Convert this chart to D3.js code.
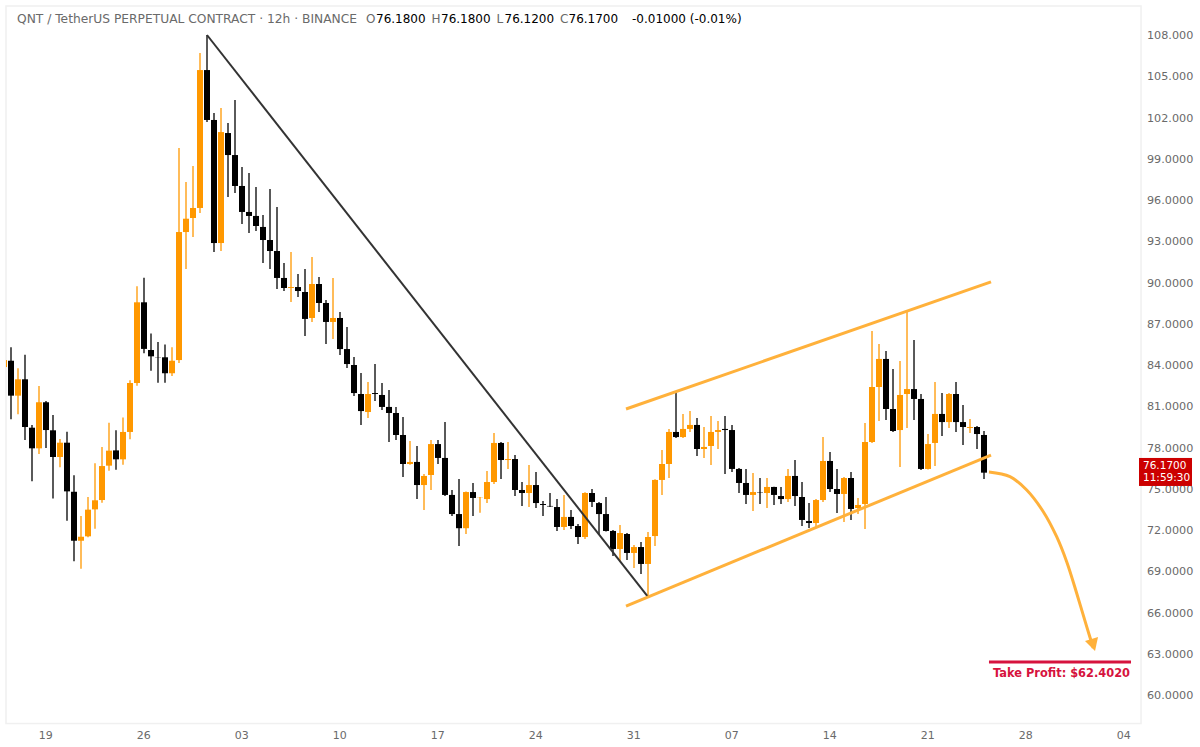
<!DOCTYPE html>
<html>
<head>
<meta charset="utf-8">
<script src="https://cdn.jsdelivr.net/npm/d3@7"></script>
<style>
  html, body { margin: 0; padding: 0; background: #fff; }
  svg { display: block; font-family: "DejaVu Sans", sans-serif; }
</style>
</head>
<body>
<svg id="chart" width="1200" height="747"></svg>
<script>
/* ---------- data, one entry per 12h bar ---------- */
const opens = [83.85,
  84.31,81.77,82.96,79.44,77.94,81.29,79.25,77.31,78.35,74.78,71.22,71.54,73.50,74.18,76.68,77.79,77.14,79.13,82.69,88.56,
  85.09,84.58,84.56,83.40,84.36,93.67,94.69,95.42,105.45,101.82,92.87,100.87,99.27,97.02,95.13,94.84,94.04,93.09,92.29,90.33,
  89.60,89.67,89.31,87.42,89.89,88.51,87.13,87.42,85.16,84.00,81.89,80.58,81.96,81.82,80.95,80.51,78.91,76.80,76.95,75.27,
  76.00,78.25,77.24,74.55,73.16,72.13,74.76,74.38,74.25,75.49,78.33,77.09,77.16,74.91,74.69,75.27,73.89,73.75,73.67,72.22,
  72.95,72.29,71.49,74.69,73.96,73.16,71.93,70.62,71.71,70.33,70.76,69.53,71.56,75.64,76.80,79.13,78.76,79.35,79.64,77.89,
  78.11,79.13,79.35,79.27,76.44,75.42,74.55,74.76,74.69,75.13,74.47,74.25,75.93,74.40,72.65,72.51,74.18,77.02,74.98,74.62,
  75.78,73.60,73.89,78.40,82.40,84.44,80.80,79.27,81.89,82.25,81.53,76.44,78.33,80.44,79.85,81.89,79.85,79.42,79.49,78.91];
const highs = [84.73,
  85.29,83.76,84.75,79.64,82.47,81.38,80.36,78.62,79.15,75.98,73.02,74.40,76.85,78.04,79.80,79.25,80.19,82.89,89.72,90.35,
  86.30,85.67,85.50,85.29,99.78,97.31,98.47,106.69,108.00,102.33,102.69,101.60,103.27,98.40,97.96,96.94,94.91,96.80,95.49,91.42,
  92.22,90.62,90.98,91.85,90.40,88.73,90.33,87.85,86.76,84.58,83.42,82.76,84.07,82.69,82.18,80.95,80.22,78.47,78.11,76.07,
  78.55,78.55,79.85,74.91,75.71,74.80,75.42,74.40,76.29,79.05,78.40,78.40,77.45,75.49,76.73,76.22,74.11,74.69,74.25,74.55,
  73.45,72.44,74.75,74.98,74.04,74.40,72.00,72.36,71.78,70.91,71.13,71.85,75.70,77.82,79.35,82.04,80.44,80.65,80.15,79.49,
  80.29,79.93,80.29,79.64,76.51,76.44,76.15,75.78,75.78,75.15,75.13,76.44,77.09,75.49,73.96,74.25,78.76,77.67,76.44,75.85,
  76.22,74.33,79.78,86.47,85.53,85.02,83.71,84.29,87.85,85.82,81.89,78.98,82.76,81.96,81.96,82.76,81.09,80.07,79.56,79.20];
const lows = [83.49,
  80.05,80.41,78.55,75.54,77.53,77.96,74.30,76.56,72.68,69.72,69.19,71.47,72.10,73.99,76.31,76.39,76.75,78.60,82.50,84.85,
  83.59,82.71,82.71,83.20,84.14,90.98,93.31,95.05,101.67,92.22,92.29,96.22,96.51,94.26,93.60,93.75,91.42,90.98,89.53,89.38,
  88.58,88.95,86.11,87.13,87.85,85.53,85.89,84.73,83.78,81.74,79.64,80.15,81.38,80.73,78.40,78.55,75.85,76.75,74.25,73.45,
  74.91,76.80,74.47,73.02,70.84,71.71,73.02,73.26,73.96,75.35,75.71,76.44,74.47,73.75,73.67,73.60,73.02,73.67,71.93,72.00,
  72.07,70.98,71.35,73.67,71.71,71.90,70.11,69.67,69.82,69.24,68.80,67.13,70.84,74.55,75.78,78.69,78.69,79.13,77.38,77.24,
  76.73,77.89,76.07,76.22,74.69,73.89,73.38,73.89,73.60,73.82,73.89,74.04,73.75,72.29,72.15,72.15,74.04,74.76,73.24,72.58,
  72.73,73.16,72.07,78.33,79.93,80.00,79.13,76.58,79.42,80.00,76.36,76.40,76.65,78.84,79.42,79.13,78.18,79.05,77.89,75.71];
const closes = [84.36,
  81.77,82.96,79.49,77.94,81.29,79.27,77.31,78.35,74.81,71.22,71.51,73.48,74.16,76.65,77.77,77.14,79.13,82.69,88.56,85.17,
  84.63,84.56,83.40,84.31,93.67,94.64,95.42,105.45,101.82,92.87,100.94,99.27,97.02,95.13,94.84,94.11,93.09,92.29,90.33,89.60,
  89.67,89.38,87.35,89.89,88.51,87.13,87.42,85.16,84.07,81.96,80.65,81.89,81.89,80.95,80.51,78.91,76.80,76.95,75.27,75.93,
  78.25,77.24,74.55,73.16,72.13,74.76,74.33,74.40,75.49,78.33,77.09,77.16,74.91,74.69,75.27,73.96,73.82,73.71,72.22,72.95,
  72.29,71.49,74.69,74.04,73.16,71.93,70.62,71.78,70.33,70.76,69.53,71.49,75.64,76.80,79.13,78.76,79.35,79.64,77.89,78.04,
  79.13,79.27,79.27,76.44,75.42,74.55,74.76,74.73,75.13,74.55,74.25,75.93,74.47,72.73,72.51,74.18,77.02,74.98,74.62,75.78,
  73.53,73.82,78.40,82.40,84.44,80.80,79.20,81.82,82.25,81.53,76.44,78.25,80.44,79.85,81.89,79.85,79.49,79.49,78.98,76.17];

const priceTicks = [60, 63, 66, 69, 72, 75, 78, 81, 84, 87, 90, 93, 96, 99, 102, 105, 108];
const dateBars   = [6, 20, 34, 48, 62, 76, 90, 104, 118, 132, 146, 160];
const dateLabels = ["19", "26", "03", "10", "17", "24", "31", "07", "14", "21", "28", "04"];

// drawings on the chart, as [bar, price]
const trendLine    = [[29, 108], [92, 67.13]];
const channelUpper = [[88.86, 80.80], [141, 90.04]];
const channelLower = [[88.86, 66.47], [141, 77.45]];
const arrowCurve   = [[140.71, 76.22], [143.71, 75.88], [146.1, 74.91], [148.47, 73.33], [150.38, 71.51],
                      [151.81, 69.69], [153.24, 67.40], [154.67, 64.97], [155.61, 63.42]];
const arrowHead    = [[155.86, 63.20], [154.43, 63.93], [156.29, 64.22]];
const takeProfit   = 62.402;
const takeProfitBars = [140.71, 161];
const lastPrice = 76.17;
const countdown = "11:59:30";

const candles = opens.map((o, i) => ({ bar: i, o, h: highs[i], l: lows[i], c: closes[i] }));

/* ---------- setup ---------- */
const svg = d3.select("#chart");
const plot = { left: 6, right: 1141, top: 6, bottom: 723.5 };
const grey = "#6a6a6a", orange = "#ff9800", lineOrange = "#ffb13b", crimson = "#d6133e";

const x = d3.scaleLinear().domain([0, 162.57]).range([4, 1142]);
const y = d3.scaleLinear().domain([60, 108]).range([695, 35]);

svg.append("defs").append("clipPath").attr("id", "plotClip")
  .append("rect")
    .attr("x", plot.left).attr("y", plot.top)
    .attr("width", plot.right - plot.left).attr("height", plot.bottom - plot.top);

svg.append("rect")
  .attr("x", plot.left).attr("y", plot.top)
  .attr("width", plot.right - plot.left).attr("height", plot.bottom - plot.top)
  .attr("fill", "none").attr("stroke", "#f0f0f0").attr("stroke-width", 1.5);

/* ---------- axes ---------- */
// six significant digits, so 78.0000 but 108.000
const yAxis = d3.axisRight(y).tickValues(priceTicks).tickSize(0).tickPadding(6)
  .tickFormat(d => d.toPrecision(6));
const yG = svg.append("g").attr("transform", `translate(${plot.right},0)`).call(yAxis);
yG.select(".domain").remove();
yG.selectAll("text").attr("fill", grey).attr("font-size", 11.2)
  .attr("font-family", "DejaVu Sans");

const xAxis = d3.axisBottom(x).tickValues(dateBars).tickSize(0).tickPadding(7.5)
  .tickFormat((d, i) => dateLabels[i]);
const xG = svg.append("g").attr("transform", `translate(-0.7,${plot.bottom})`).call(xAxis);
xG.select(".domain").remove();
xG.selectAll("text").attr("fill", grey).attr("font-size", 11)
  .attr("font-family", "DejaVu Sans");

/* ---------- candles ---------- */
const bodyW = 6;
const candleG = svg.append("g").attr("clip-path", "url(#plotClip)");
const color = d => d.c >= d.o ? orange : "#000";

candleG.selectAll("line.wick").data(candles).enter().append("line")
  .attr("class", "wick")
  .attr("x1", d => x(d.bar)).attr("x2", d => x(d.bar))
  .attr("y1", d => y(d.h)).attr("y2", d => y(d.l))
  .attr("stroke", color).attr("stroke-width", 1.3);

candleG.selectAll("rect.body").data(candles).enter().append("rect")
  .attr("class", "body")
  .attr("x", d => x(d.bar) - bodyW / 2)
  .attr("y", d => y(Math.max(d.o, d.c)))
  .attr("width", bodyW)
  .attr("height", d => Math.abs(y(d.o) - y(d.c)))
  .attr("fill", color);

/* ---------- drawings ---------- */
const line = d3.line().x(d => x(d[0])).y(d => y(d[1]));

svg.append("path").attr("d", line(trendLine))
  .attr("fill", "none").attr("stroke", "#333").attr("stroke-width", 2);
[channelUpper, channelLower].forEach(c => {
  svg.append("path").attr("d", line(c))
    .attr("fill", "none").attr("stroke", lineOrange).attr("stroke-width", 3);
});
svg.append("path").attr("d", line.curve(d3.curveCatmullRom)(arrowCurve))
  .attr("fill", "none").attr("stroke", lineOrange).attr("stroke-width", 3);
line.curve(d3.curveLinear);
svg.append("path").attr("d", line(arrowHead) + "Z").attr("fill", lineOrange);

svg.append("line")
  .attr("x1", x(takeProfitBars[0])).attr("x2", x(takeProfitBars[1]))
  .attr("y1", y(takeProfit)).attr("y2", y(takeProfit))
  .attr("stroke", crimson).attr("stroke-width", 3);
svg.append("text")
  .attr("x", x(takeProfitBars[1]) - 1).attr("y", y(takeProfit) + 15.5)
  .attr("text-anchor", "end").attr("font-size", 11.4).attr("font-weight", "bold")
  .attr("fill", crimson).text("Take Profit: $62.4020");

/* ---------- last price tag ---------- */
const tagY = y(lastPrice);
svg.append("rect").attr("x", 1139).attr("y", tagY - 14.7).attr("width", 53).attr("height", 28)
  .attr("fill", "#cc0000");
svg.append("text").attr("x", 1143).attr("y", tagY - 3.7).attr("fill", "#fff").attr("font-size", 10.5)
  .text(d3.format(".4f")(lastPrice));
svg.append("text").attr("x", 1143).attr("y", tagY + 8.6).attr("fill", "#fff").attr("font-size", 10.5)
  .text(countdown);

/* ---------- header ---------- */
const header = svg.append("text").attr("y", 23).attr("font-size", 12);
header.append("tspan").attr("x", 17).attr("fill", grey).attr("font-size", 12.25)
  .text("QNT / TetherUS PERPETUAL CONTRACT · 12h · BINANCE");
[["O", 366, "76.1800", 376], ["H", 431.5, "76.1800", 441], ["L", 496.5, "76.1200", 504.5], ["C", 560, "76.1700", 568.5]]
  .forEach(([k, kx, v, vx]) => {
    header.append("tspan").attr("x", kx).attr("fill", grey).text(k);
    header.append("tspan").attr("x", vx).attr("fill", "#000").text(v);
  });
header.append("tspan").attr("x", 632).attr("fill", "#000").text("-0.01000 (-0.01%)");
</script>
</body>
</html>
